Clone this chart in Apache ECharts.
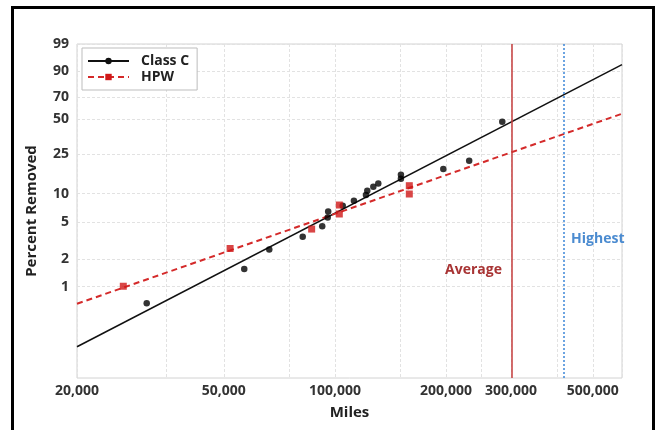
<!DOCTYPE html>
<html><head><meta charset="utf-8">
<script src="https://cdn.jsdelivr.net/npm/echarts@6/dist/echarts.min.js"></script>
<style>html,body{margin:0;padding:0;background:#fff}#c{width:657px;height:430px}</style>
</head><body><div id="c"></div>
<script>
// ---- data ----
const classCMiles = [30900,56800,66400,81800,92400,95600,95900,105000,112600,121400,122400,127100,131100,151000,151000,196700,231200,284200];
const classCPct   = [0.66,1.56,2.54,3.48,4.50,5.61,6.50,7.47,8.42,9.67,10.71,11.78,12.74,15.61,14.22,17.80,21.47,47.65];
const hpwMiles = [26700,52000,86500,102800,102800,159100,159100];
const hpwPct   = [1.01,2.60,4.21,7.59,6.10,12.07,9.90];
const fitMiles      = [20000,600000];
const classCFitPct  = [0.22,93.5];
const hpwFitPct     = [0.65,54.7];
const averageMiles = 300000;
const highestMiles = 418000;
const xTickLabels = [20000,50000,100000,200000,300000,500000];
const xGridMiles  = [20000,35000,50000,75000,100000,150000,200000,250000,300000,400000,500000,600000];
const yTickPct    = [1,2,5,10,25,50,70,90,99];
const xRange = [20000,600000];
const yRange = [0.1,99];

// ---- scale transforms (log10 miles, Weibull probability) ----
const tx = m => Math.log10(m);
const ty = p => Math.log(-Math.log(1 - p/100));
const nearest = (arr, f, v) => arr.reduce((b, a) => Math.abs(f(a)-v) < Math.abs(f(b)-v) ? a : b);

const FONT = '"Open Sans", "Noto Sans", sans-serif';
const chart = echarts.init(document.getElementById('c'), null, {renderer:'canvas'});

const pts = (xs, ys) => xs.map((x,i) => [tx(x), ty(ys[i])]);

chart.setOption({
  animation:false,
  backgroundColor:'#fff',
  textStyle:{fontFamily:FONT},
  grid:{left:77, right:35, top:44, bottom:52, show:true, borderColor:'#d2d2d2', borderWidth:1, containLabel:false},
  graphic:[{type:'rect', shape:{x:12.5, y:7.5, width:641, height:440}, style:{fill:null, stroke:'#000', lineWidth:3}, silent:true, z:100}],
  legend:{
    data:['Class C','HPW'], orient:'vertical', left:82, top:48,
    padding:[6,8,6,5], itemGap:2, itemWidth:41, itemHeight:8,
    borderColor:'#bdbdbd', borderWidth:1, backgroundColor:'#fff',
    textStyle:{fontSize:14, fontWeight:'bold', color:'#222', fontFamily:FONT, padding:[0,0,0,7]}
  },
  xAxis:{
    type:'value', min:tx(xRange[0]), max:tx(xRange[1]),
    name:'Miles', nameLocation:'middle', nameGap:27,
    nameTextStyle:{fontSize:15, fontWeight:'bold', color:'#222', fontFamily:FONT},
    axisLine:{show:false},
    axisTick:{show:false, customValues:xGridMiles.map(tx)},
    splitLine:{show:true, lineStyle:{color:'#e2e2e2', width:1, type:[3,2]}},
    axisLabel:{customValues:xTickLabels.map(tx), margin:6, fontSize:14, fontWeight:'bold', color:'#333', fontFamily:FONT,
      formatter:v => nearest(xTickLabels, tx, v).toLocaleString('en-US')}
  },
  yAxis:{
    type:'value', min:ty(yRange[0]), max:ty(yRange[1]),
    name:'Percent Removed', nameLocation:'middle', nameGap:38, nameRotate:90,
    nameTextStyle:{fontSize:15, fontWeight:'bold', color:'#222', fontFamily:FONT},
    axisLine:{show:false},
    axisTick:{show:false, customValues:yTickPct.map(ty)},
    splitLine:{show:true, lineStyle:{color:'#e2e2e2', width:1, type:[3,2]}},
    axisLabel:{customValues:yTickPct.map(ty), margin:8, fontSize:14, fontWeight:'bold', color:'#333', fontFamily:FONT,
      formatter:v => String(nearest(yTickPct, ty, v))}
  },
  series:[
    {name:'Class C', type:'line', data:pts(fitMiles, classCFitPct), showSymbol:false, symbol:'circle',
      lineStyle:{color:'#111', width:1.5}, itemStyle:{color:'#111'}, z:3},
    {name:'HPW', type:'line', data:pts(fitMiles, hpwFitPct), showSymbol:false, symbol:'rect',
      lineStyle:{color:'#d42a2a', width:2, type:[6,4]}, itemStyle:{color:'#d01818'}, z:3},
    {name:'Class C', type:'scatter', data:pts(classCMiles, classCPct), symbol:'circle', symbolSize:6.5,
      itemStyle:{color:'#000'}, z:5},
    {name:'HPW', type:'scatter', data:pts(hpwMiles, hpwPct), symbol:'rect', symbolSize:7,
      itemStyle:{color:'#d01818'}, z:5},
    {name:'ref', type:'line', data:[], z:2,
      markLine:{silent:true, symbol:'none', label:{show:false},
        data:[
          {xAxis:tx(averageMiles), lineStyle:{color:'#c43c3c', width:1.5, type:'solid'}},
          {xAxis:tx(highestMiles), lineStyle:{color:'#3d86d8', width:1.5, type:[2,2]}}
        ]},
      markPoint:{silent:true, symbol:'circle', symbolSize:0,
        data:[
          {coord:[tx(averageMiles), ty(1.53)], label:{show:true, position:'left', distance:9, formatter:'Average',
            fontSize:14, fontWeight:'bold', color:'#a83434', fontFamily:FONT}},
          {coord:[tx(highestMiles), ty(3.31)], label:{show:true, position:'right', distance:7, formatter:'Highest',
            fontSize:14, fontWeight:'bold', color:'#4b8bd0', fontFamily:FONT}}
        ]}
    }
  ]
});
</script></body></html>
